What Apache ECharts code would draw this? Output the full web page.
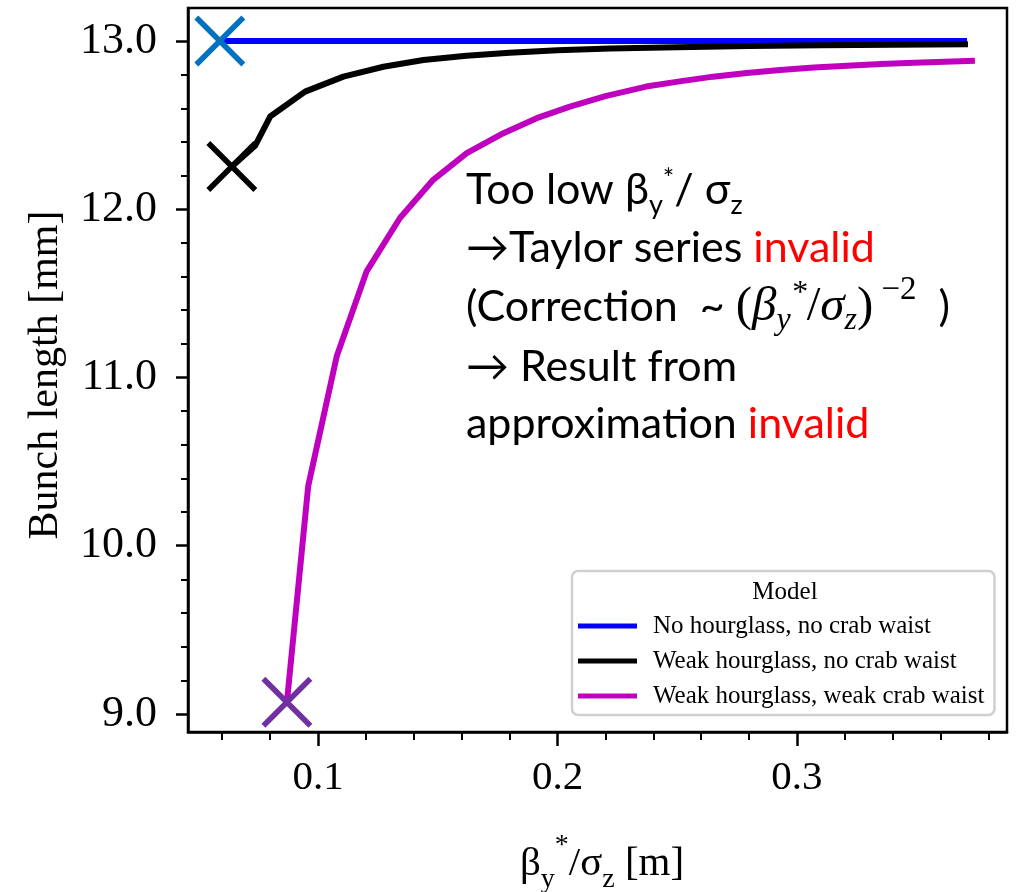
<!DOCTYPE html>
<html>
<head>
<meta charset="utf-8">
<script src="https://cdn.jsdelivr.net/npm/echarts@6/dist/echarts.min.js"></script>
<style>
  html, body { margin: 0; padding: 0; background: #ffffff; }
  #chart { width: 1020px; height: 892px; }
</style>
</head>
<body>
<div id="chart"></div>
<script>
// Model names shown in the legend
const modelNames = [
  'No hourglass, no crab waist',
  'Weak hourglass, no crab waist',
  'Weak hourglass, weak crab waist'
];

// Bunch length [mm] versus beta_y* / sigma_z [m]
const noHourglassX = [0.059, 0.371];
const noHourglassY = [13.0, 13.0];

const weakHourglassX = [0.064, 0.0737, 0.080, 0.0946, 0.1106, 0.1273, 0.144, 0.162, 0.18, 0.2, 0.222, 0.25, 0.28, 0.31, 0.34, 0.3714];
const weakHourglassY = [12.254, 12.377, 12.551, 12.699, 12.788, 12.847, 12.887, 12.912, 12.93, 12.945, 12.955, 12.963, 12.97, 12.975, 12.978, 12.98];

const crabWaistX = [0.087, 0.0959, 0.1078, 0.1203, 0.1342, 0.1481, 0.1621, 0.1774, 0.1913, 0.2052, 0.22, 0.237, 0.251, 0.265, 0.279, 0.293, 0.307, 0.321, 0.335, 0.349, 0.3743];
const crabWaistY = [9.07, 10.355, 11.126, 11.631, 11.948, 12.175, 12.334, 12.452, 12.541, 12.61, 12.672, 12.729, 12.76, 12.788, 12.81, 12.828, 12.842, 12.853, 12.863, 12.871, 12.883];

// Lowest-beta point of each model, marked with a cross
const crossX = [0.059, 0.064, 0.087];
const crossY = [13.0, 12.254, 9.07];

// Axis ticks
const xMajorTicks = [0.1, 0.2, 0.3];
const xMinorTicks = [0.06, 0.08, 0.12, 0.14, 0.16, 0.18, 0.22, 0.24, 0.26, 0.28, 0.32, 0.34, 0.36, 0.38];
const yMajorTicks = [9, 10, 11, 12, 13];
const yMinorTicks = [9.2, 9.4, 9.6, 9.8, 10.2, 10.4, 10.6, 10.8, 11.2, 11.4, 11.6, 11.8, 12.2, 12.4, 12.6, 12.8];

const X_MIN = 0.0457, X_MAX = 0.3877;
const Y_MIN = 8.893, Y_MAX = 13.196;

const lineColors = ['#0000ff', '#000000', '#bf00bf'];
const crossColors = ['#0070c0', '#000000', '#7030a0'];

const SERIF = "'Liberation Serif', 'Times New Roman', serif";
const SANS = "Lato, 'Noto Sans', sans-serif";

function zip(xs, ys) { return xs.map((x, i) => [x, ys[i]]); }

const chart = echarts.init(document.getElementById('chart'), null, { renderer: 'canvas' });

const axisLineStyle = { color: '#000', width: 2.5 };

const lineSeries = [
  [noHourglassX, noHourglassY],
  [weakHourglassX, weakHourglassY],
  [crabWaistX, crabWaistY]
].map((d, i) => ({
  name: modelNames[i],
  type: 'line',
  data: zip(d[0], d[1]),
  showSymbol: false,
  symbol: 'none',
  lineStyle: { color: lineColors[i], width: 6, join: 'round' },
  itemStyle: { color: lineColors[i] },
  xAxisIndex: 0,
  yAxisIndex: 0,
  z: 2 + i
}));

const crossSeries = crossX.map((x, i) => ({
  type: 'scatter',
  data: [[x, crossY[i]]],
  symbol: 'path://M0,0L20,20M20,0L0,20',
  symbolSize: 47,
  itemStyle: { color: 'transparent', borderColor: crossColors[i], borderWidth: 5.5, opacity: 1 },
  emphasis: { disabled: true },
  xAxisIndex: 0,
  yAxisIndex: 0,
  z: 10,
  silent: true
}));

// Rich text pieces of the annotation (zrender style keys)
const sansRich = {
  t: { fontFamily: SANS, fontSize: 43, fill: '#000', lineHeight: 60 },
  r: { fontFamily: SANS, fontSize: 43, fill: '#ff0000', lineHeight: 60 },
  sub: { fontFamily: SANS, fontSize: 27, fill: '#000', padding: [30, 0, 0, 0] },
  sup: { fontFamily: SANS, fontSize: 27, fill: '#000', padding: [0, 0, 22, 0] },
  mi: { fontFamily: SERIF, fontStyle: 'italic', fontSize: 49, fill: '#000' },
  mp: { fontFamily: SERIF, fontSize: 49, fill: '#000' },
  msub: { fontFamily: SERIF, fontStyle: 'italic', fontSize: 32, fill: '#000', padding: [28, 0, 0, 0] },
  msup: { fontFamily: SERIF, fontStyle: 'italic', fontSize: 32, fill: '#000', padding: [0, 0, 26, 0] },
  mexp: { fontFamily: SERIF, fontSize: 33, fill: '#000', padding: [0, 0, 34, 0] }
};

const noteLines = [
  { y: 190, text: '{t|Too low β}{sub|y}{sup|*}{t|/ σ}{sub|z}' },
  { y: 248, text: '{t|→Taylor series }{r|invalid}' },
  { y: 307, text: '{t|(Correction  ~ }{mp|(}{mi|β}{msub|y}{msup|*}{mp|/}{mi|σ}{msub|z}{mp|)}{mexp| −2}{t|  )}' },
  { y: 367, text: '{t|→ Result from}' },
  { y: 424, text: '{t|approximation }{r|invalid}' }
];

const serifRich = {
  b: { fontFamily: SERIF, fontSize: 41, fill: '#000', lineHeight: 58 },
  s: { fontFamily: SERIF, fontSize: 28, fill: '#000', padding: [32, 0, 0, 0] },
  p: { fontFamily: SERIF, fontSize: 28, fill: '#000', padding: [0, 0, 36, 0] }
};

const graphics = noteLines.map(l => ({
  type: 'text',
  x: 466,
  y: l.y,
  z: 50,
  style: { text: l.text, rich: sansRich, align: 'left', verticalAlign: 'middle' }
}));

graphics.push({
  type: 'text',
  x: 602,
  y: 864,
  z: 50,
  style: { text: '{b|β}{s|y}{p|*}{b|/σ}{s|z}{b| [m]}', rich: serifRich, align: 'center', verticalAlign: 'middle' }
});

graphics.push({
  type: 'text',
  x: 46,
  y: 375,
  rotation: Math.PI / 2,
  z: 50,
  style: { text: 'Bunch length [mm]', fontFamily: SERIF, fontSize: 42, fill: '#000', align: 'center', verticalAlign: 'middle' }
});

graphics.push({
  type: 'text',
  x: 785,
  y: 592,
  z: 100,
  style: { text: 'Model', fontFamily: SERIF, fontSize: 25, fill: '#000', align: 'center', verticalAlign: 'middle' }
});

chart.setOption({
  animation: false,
  backgroundColor: '#ffffff',
  grid: {
    left: 188, right: 13, top: 8, bottom: 160,
    show: true, borderColor: '#000', borderWidth: 2.5, backgroundColor: 'transparent'
  },
  xAxis: [
    {
      type: 'value', min: X_MIN, max: X_MAX, position: 'bottom',
      axisLine: { show: true, lineStyle: axisLineStyle },
      axisTick: { show: true, length: 14, lineStyle: { color: '#000', width: 2.5 }, customValues: xMajorTicks },
      axisLabel: {
        show: true, customValues: xMajorTicks, margin: 26,
        fontFamily: SERIF, fontSize: 41, color: '#000',
        formatter: v => v.toFixed(1)
      },
      splitLine: { show: false }
    },
    {
      type: 'value', min: X_MIN, max: X_MAX, position: 'bottom',
      axisLine: { show: false },
      axisTick: { show: true, length: 8, lineStyle: { color: '#000', width: 2 }, customValues: xMinorTicks },
      axisLabel: { show: false },
      splitLine: { show: false }
    }
  ],
  yAxis: [
    {
      type: 'value', min: Y_MIN, max: Y_MAX, position: 'left',
      axisLine: { show: true, lineStyle: axisLineStyle },
      axisTick: { show: true, length: 12, lineStyle: { color: '#000', width: 2.5 }, customValues: yMajorTicks },
      axisLabel: {
        show: true, customValues: yMajorTicks, margin: 31,
        fontFamily: SERIF, fontSize: 44, color: '#000',
        formatter: v => v.toFixed(1)
      },
      splitLine: { show: false }
    },
    {
      type: 'value', min: Y_MIN, max: Y_MAX, position: 'left',
      axisLine: { show: false },
      axisTick: { show: true, length: 7, lineStyle: { color: '#000', width: 2 }, customValues: yMinorTicks },
      axisLabel: { show: false },
      splitLine: { show: false }
    }
  ],
  legend: {
    data: modelNames,
    orient: 'vertical',
    left: 572,
    top: 571,
    padding: [40, 10, 4, 6],
    itemGap: 5,
    itemWidth: 59,
    itemHeight: 5,
    icon: 'rect',
    backgroundColor: '#ffffff',
    borderColor: '#d0d0d0',
    borderWidth: 2.5,
    borderRadius: 6,
    selectedMode: false,
    z: 20,
    textStyle: { fontFamily: SERIF, fontSize: 25, color: '#000', lineHeight: 30, padding: [0, 0, 0, 11] }
  },
  graphic: graphics,
  series: lineSeries.concat(crossSeries)
});
</script>
</body>
</html>
